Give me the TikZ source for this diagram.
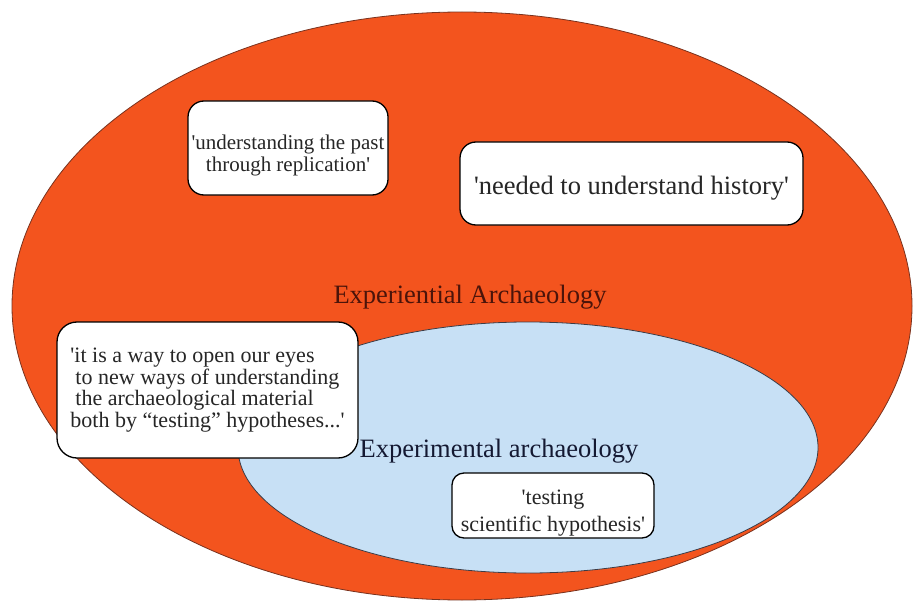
\documentclass[tikz,border=0pt]{standalone}
\usepackage{fontspec}
\setmainfont{Liberation Serif}
\usepackage{tikz}
\usetikzlibrary{positioning}

\definecolor{outerfill}{RGB}{243,84,30}
\definecolor{innerfill}{RGB}{199,224,245}
\definecolor{outerline}{RGB}{120,50,30}
\definecolor{innerline}{RGB}{60,60,70}
\definecolor{redtext}{RGB}{75,20,10}
\definecolor{bluetext}{RGB}{20,25,50}

\newcommand{\sq}{\textquotesingle}

\tikzset{
    quotebox/.style={draw=black, line width=1.3pt, fill=white, rounded corners=16pt,
        inner sep=0pt, align=center, text=black!85},
    setlabel/.style={inner sep=0pt, font=\fontsize{26.5}{28}\selectfont}
}

\begin{document}
\begin{tikzpicture}[x=1pt, y=-1pt]
    \useasboundingbox (0,0) rectangle (913,607);

    % the two sets
    \draw[fill=outerfill, draw=outerline, line width=0.8pt] (462,306) ellipse [x radius=450, y radius=294];
    \draw[fill=innerfill, draw=innerline, line width=0.8pt] (528,447.5) ellipse [x radius=290, y radius=125.5];

    \node[setlabel, text=redtext] (experiential) at (470,297) {Experiential Archaeology};
    \node[setlabel, text=bluetext] (experimental) at (499,451) {Experimental archaeology};

    % quotations
    \node[quotebox, minimum width=200, minimum height=94, font=\fontsize{21}{22}\selectfont] (past) at (288,148)
        {\rule{0pt}{30pt}\sq understanding the past\\through replication\sq};
    \node[quotebox, minimum width=343, minimum height=83, font=\fontsize{26.5}{28}\selectfont] (history) at (631.5,183.5)
        {\rule{0pt}{27pt}\sq needed to understand history\sq};
    \node[quotebox, minimum width=301, minimum height=136, rounded corners=20pt, align=left,
        font=\fontsize{22}{21.7}\selectfont] (eyes) at (207.5,390)
        {\sq it is a way to open our eyes\\\hspace{5pt}to new ways of understanding\\\hspace{5pt}the archaeological material\\both by ``testing'' hypotheses...\sq};
    \node[quotebox, minimum width=202, minimum height=65, rounded corners=12pt,
        font=\fontsize{22}{27}\selectfont] (testing) at (553,505.5)
        {\rule{0pt}{30pt}\sq testing\\scientific hypothesis\sq};
\end{tikzpicture}
\end{document}
